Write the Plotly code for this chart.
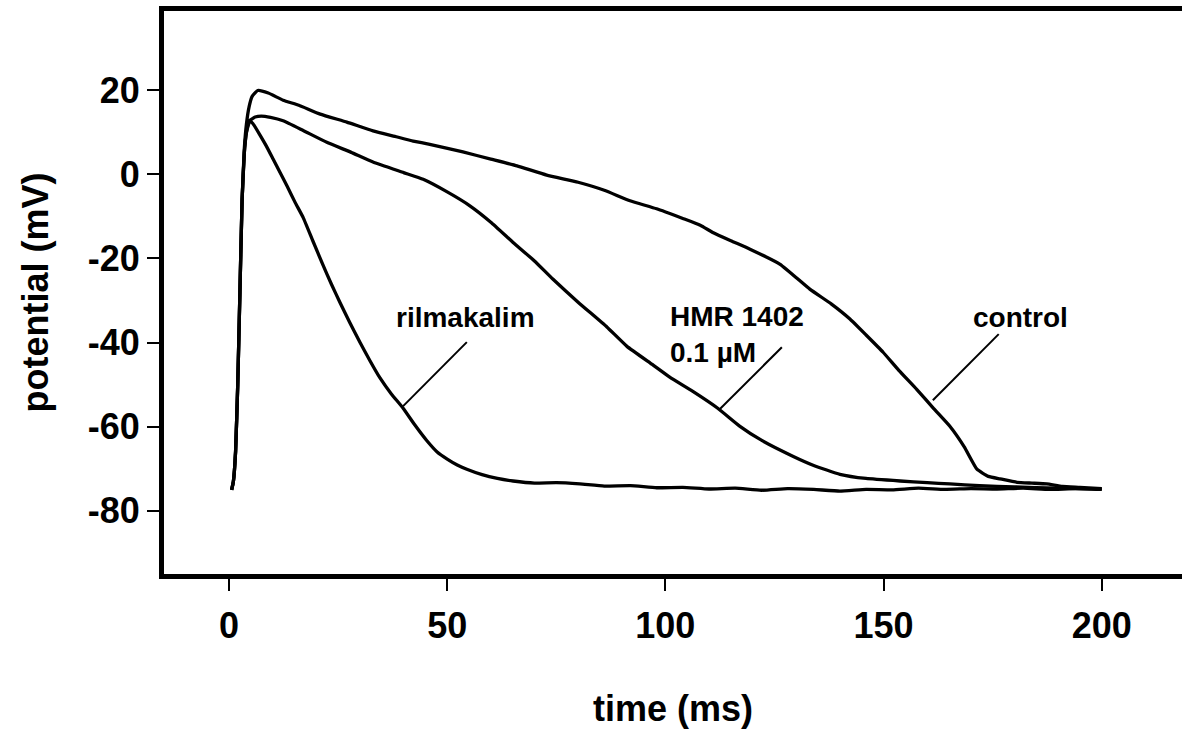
import plotly.graph_objects as go

# ---------------- data ----------------
control_t = [0.6, 1.0, 1.5, 2.0, 2.5, 3.0, 3.5, 4.0, 4.6, 5.3, 6.6, 9, 12.4, 16, 20.9, 27, 33, 38, 42.2, 46,
             53.6, 60, 66, 72.8, 80, 86, 91.9, 98, 104, 108, 111, 115, 119.4, 126.3, 133.1, 138, 142.3, 146,
             149.9, 153.5, 157.6, 161.5, 165.2, 168.5, 171.4, 174, 176.7, 180.6, 184, 187.4, 191, 195, 200]
control_v = [-75, -73, -66, -50, -28, -6, 6, 12, 16, 18.5, 19.9, 19.3, 17.6, 16.4, 14.3, 12.4, 10.3, 9.0, 7.9, 7.1,
             5.3, 3.6, 2.0, -0.2, -1.9, -3.8, -6.3, -8.2, -10.5, -12.1, -13.9, -15.8, -17.8, -21.4, -27.3, -30.8,
             -34.4, -38.2, -42.3, -46.6, -51.1, -55.7, -59.9, -64.8, -70.1, -71.8, -72.4, -73.2, -73.4, -73.6,
             -74.2, -74.4, -74.7]

hmr_t = [0.6, 1.0, 1.5, 2.0, 2.5, 3.0, 3.5, 4.0, 4.8, 6, 7.4, 9.5, 12.4, 17, 22.4, 28, 33, 40, 44.5, 50, 55.2,
         60, 65.1, 70, 74.2, 80, 86.6, 91.2, 97, 101, 106.3, 112, 117.1, 122, 129.2, 134, 140, 146, 153.8, 160,
         165.2, 172, 180, 190, 200]
hmr_v = [-75, -73, -66, -50, -28, -6, 5, 10, 12.8, 13.6, 13.8, 13.5, 12.7, 10.4, 7.6, 5.2, 2.9, 0.4, -1.2, -4.2,
         -7.5, -11.4, -16.2, -20.6, -24.9, -30.4, -36.3, -40.9, -45.2, -48.2, -51.6, -55.6, -59.9, -63.2, -67.0,
         -69.2, -71.3, -72.3, -72.9, -73.3, -73.6, -74.0, -74.3, -74.6, -74.8]

ril_t = [0.6, 1.0, 1.5, 2.0, 2.5, 3.0, 3.5, 4.0, 4.6, 5.5, 7, 8.5, 10.1, 11.7, 13.3, 15.2, 17, 19.2, 21.5, 23.5,
         25.4, 27.7, 30, 32.3, 34.6, 37.2, 39.9, 42.6, 45.4, 47.7, 50, 52.3, 54.5, 58, 61.5, 65.1, 70, 75, 80.4,
         86, 92, 98, 104, 110, 116, 122, 128, 134, 140, 146, 152, 158, 164, 170, 176, 182, 188, 194, 200]
ril_v = [-75, -73, -66, -50, -28, -6, 5, 10, 12.8, 12.0, 9.5, 6.8, 3.6, 0.4, -2.8, -6.8, -10.3, -15.8, -21.5,
         -26.2, -30.4, -35.3, -39.9, -44.3, -48.4, -52.2, -55.6, -59.6, -63.4, -66.0, -67.7, -69.1, -70.1, -71.4,
         -72.3, -72.9, -73.4, -73.3, -73.6, -74.1, -74.0, -74.5, -74.4, -74.8, -74.6, -75.1, -74.7, -74.9, -75.3,
         -74.9, -75.0, -74.6, -74.9, -74.7, -74.8, -74.6, -74.9, -74.7, -74.9]

x_ticks = [0, 50, 100, 150, 200]
x_tick_text = ["0", "50", "100", "150", "200"]
y_ticks = [-80, -60, -40, -20, 0, 20]
y_tick_text = ["-80", "-60", "-40", "-20", "0", "20"]

# labels: text, x, y, anchor
label_texts = ["rilmakalim", "HMR 1402<br>0.1 µM", "control"]
label_x = [54.3, 100.6, 181.3]
label_y = [-34.0, -38.0, -34.0]
label_xanchor = ["center", "left", "center"]
# leader lines (x0, y0, x1, y1)
leader_x0 = [54.5, 126.7, 176.4]
leader_y0 = [-39.9, -41.1, -38.0]
leader_x1 = [39.9, 112.5, 161.3]
leader_y1 = [-55.1, -55.8, -53.7]

FONT = "Arial, 'Liberation Sans', sans-serif"

fig = go.Figure()
for t, v, name in [(ril_t, ril_v, "rilmakalim"), (hmr_t, hmr_v, "HMR 1402 0.1 µM"), (control_t, control_v, "control")]:
    fig.add_trace(go.Scatter(x=t, y=v, mode="lines", name=name,
                             line=dict(color="black", width=3.3, shape="spline", smoothing=0.4),
                             showlegend=False, hoverinfo="skip"))

for x0, y0, x1, y1 in zip(leader_x0, leader_y0, leader_x1, leader_y1):
    fig.add_shape(type="line", x0=x0, y0=y0, x1=x1, y1=y1, xref="x", yref="y",
                  line=dict(color="black", width=2))

for txt, x, y, xa in zip(label_texts, label_x, label_y, label_xanchor):
    fig.add_annotation(x=x, y=y, text=txt, showarrow=False, xanchor=xa, yanchor="middle", align="left",
                       font=dict(family=FONT, size=28, color="black", weight="bold"))

fig.update_layout(
    width=1182, height=729,
    margin=dict(l=164, r=0, t=11, b=155),
    paper_bgcolor="white", plot_bgcolor="white",
    font=dict(family=FONT, color="black"),
)
fig.update_xaxes(range=[-14.9, 218.4], tickvals=x_ticks, ticktext=x_tick_text, ticks="outside", ticklen=12,
                 tickwidth=2, tickcolor="black", showline=True, linewidth=5, linecolor="black", mirror=True,
                 showgrid=False, zeroline=False, ticklabelstandoff=4,
                 tickfont=dict(family=FONT, size=36, weight="bold"),
                 title=dict(text="time (ms)", font=dict(family=FONT, size=36, weight="bold"), standoff=52))
fig.update_yaxes(range=[-95.0, 38.8], tickvals=y_ticks, ticktext=y_tick_text, ticks="outside", ticklen=12,
                 tickwidth=2, tickcolor="black", showline=True, linewidth=5, linecolor="black", mirror=False,
                 showgrid=False, zeroline=False,
                 tickfont=dict(family=FONT, size=36, weight="bold"),
                 title=dict(text="potential (mV)", font=dict(family=FONT, size=36, weight="bold"), standoff=30))

fig.write_html("out.html")
